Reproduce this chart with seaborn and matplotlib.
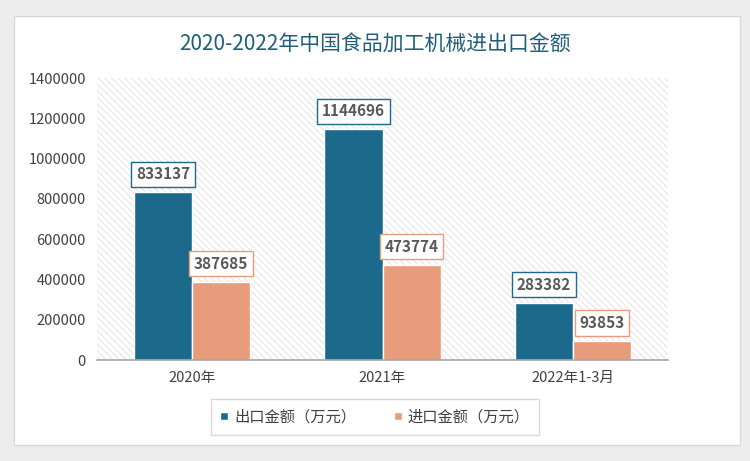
import pandas as pd
import matplotlib
matplotlib.use("Agg")
import matplotlib.pyplot as plt
from matplotlib.patches import Rectangle
import seaborn as sns

# datos
categorias = ["2020年", "2021年", "2022年1-3月"]
exportacion = [833137, 1144696, 283382]
importacion = [387685, 473774, 93853]
series = ["出口金额（万元）", "进口金额（万元）"]
colores = ["#1b6a8c", "#e89c7b"]

df = pd.DataFrame({
    "categoria": categorias * 2,
    "valor": exportacion + importacion,
    "serie": [series[0]] * 3 + [series[1]] * 3,
})

sns.set_theme(style="white")
plt.rcParams["font.family"] = ["Noto Sans CJK SC", "DejaVu Sans"]
plt.rcParams["hatch.linewidth"] = 0.6

fig = plt.figure(figsize=(7.5, 4.61), dpi=100, facecolor="#ececec")
# tarjeta blanca
fig.patches.append(Rectangle((14 / 750, 1 - 445 / 461), 726 / 750, 429 / 461,
                             transform=fig.transFigure, facecolor="white",
                             edgecolor="#d9d9d9", lw=1, zorder=-10))

ax = fig.add_axes([97 / 750, 1 - 360 / 461, 571 / 750, 282 / 461])
ax.patch.set_alpha(0)
ax.add_patch(Rectangle((0, 0), 1, 1, transform=ax.transAxes, facecolor="white",
                       edgecolor="#dedede", lw=0, hatch="\\\\\\\\\\", zorder=0))

sns.barplot(data=df, x="categoria", y="valor", hue="serie", palette=colores, saturation=1,
            width=0.61, edgecolor="white", linewidth=1, ax=ax, zorder=2)

ax.set_ylim(0, 1400000)
ax.set_yticks(range(0, 1400001, 200000))
ax.set_yticklabels([str(v) for v in range(0, 1400001, 200000)], fontsize=10.5, color="#404040")
ax.tick_params(axis="x", labelsize=10.5, colors="#404040", pad=8, length=0)
ax.tick_params(axis="y", length=0, pad=8)
ax.set_xlabel("")
ax.set_ylabel("")
for s in ["top", "right", "left"]:
    ax.spines[s].set_visible(False)
ax.spines["bottom"].set_color("#a6a6a6")
ax.spines["bottom"].set_linewidth(1.2)
ax.spines["bottom"].set_zorder(3)

# etiquetas con caja
for cont, col in zip(ax.containers, colores):
    for barra in cont:
        h = barra.get_height()
        ax.annotate(f"{int(h)}", (barra.get_x() + barra.get_width() / 2, h),
                    xytext=(0, 13), textcoords="offset points", ha="center", va="center",
                    fontsize=11, fontweight="bold", color="#595959", zorder=5,
                    bbox=dict(boxstyle="square,pad=0.3", facecolor="white", edgecolor=col, lw=1))

handles, labels = ax.get_legend_handles_labels()
ax.get_legend().remove()
leg = fig.legend(handles, labels, loc="center", bbox_to_anchor=(0.5, 1 - 417 / 461), ncol=2,
                 fontsize=11, frameon=True, fancybox=False, edgecolor="#d0d0d0",
                 handlelength=0.5, handleheight=0.5, handletextpad=0.4, columnspacing=2.5,
                 borderpad=0.6)
for t in leg.get_texts():
    t.set_color("#404040")

fig.text(375 / 750, 1 - 45 / 461, "2020-2022年中国食品加工机械进出口金额", ha="center", va="center",
         fontsize=15, color="#1f5f7a")

fig.savefig("out.png", dpi=100, facecolor=fig.get_facecolor())
